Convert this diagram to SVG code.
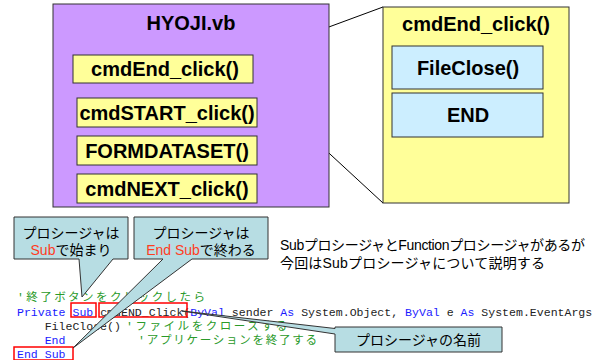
<svg xmlns="http://www.w3.org/2000/svg" width="600" height="360" viewBox="0 0 600 360">
<style>
.bx{stroke:#333;stroke-width:1}
.bt{font-family:"Liberation Sans",Arial,sans-serif;font-weight:bold;font-size:20px;fill:#000;text-anchor:middle}
.jp{font-family:"Liberation Sans","Noto Sans CJK JP",sans-serif;font-size:14px;fill:#000}
.cd{font-family:"Liberation Mono","Noto Sans CJK JP",monospace;font-size:11.55px;fill:#222}
.kw{fill:#1a1aff}
.cm{fill:#2a9a2a}
.red{fill:none;stroke:#ff0000;stroke-width:1.5}
.co{fill:#b7dde3;stroke:#333;stroke-width:1}
.rt{fill:#ff3c1e}
</style>
<rect width="600" height="360" fill="#fff"/>
<g id="connectors" stroke="#000" stroke-width="1">
<line x1="253" y1="55" x2="383" y2="7"/>
<line x1="253" y1="83" x2="383" y2="203"/>
</g>
<g id="hyoji">
<rect class="bx" x="53" y="4" width="276" height="203" fill="#cc99ff"/>
<text class="bt" x="191" y="30">HYOJI.vb</text>
</g>
<g id="cmdEnd">
<rect class="bx" x="73" y="55" width="180" height="28" fill="#ffff99"/>
<text class="bt" x="165" y="76">cmdEnd_click()</text>
</g>
<g id="cmdSTART">
<rect class="bx" x="77" y="98" width="180" height="29" fill="#ffff99"/>
<text class="bt" x="167" y="119.5">cmdSTART_click()</text>
</g>
<g id="formdataset">
<rect class="bx" x="77" y="136" width="180" height="29" fill="#ffff99"/>
<text class="bt" x="167" y="157.5">FORMDATASET()</text>
</g>
<g id="cmdNEXT">
<rect class="bx" x="77" y="174" width="180" height="29" fill="#ffff99"/>
<text class="bt" x="167" y="195.5">cmdNEXT_click()</text>
</g>
<g id="cmdEndDetail">
<rect class="bx" x="383" y="7" width="186" height="196" fill="#ffff99"/>
<text class="bt" x="476" y="31">cmdEnd_click()</text>
</g>
<g id="fileclose">
<rect class="bx" x="392" y="46" width="151" height="43" fill="#cceeff"/>
<text class="bt" x="468" y="74.5">FileClose()</text>
</g>
<g id="end">
<rect class="bx" x="392" y="93" width="151" height="44" fill="#cceeff"/>
<text class="bt" x="468" y="122">END</text>
</g>
<g id="description">
<text class="jp" x="280" y="250" textLength="305" lengthAdjust="spacing">SubプロシージャとFunctionプロシージャがあるが</text>
<text class="jp" x="280" y="268" textLength="265" lengthAdjust="spacing">今回はSubプロシージャについて説明する</text>
</g>
<g id="code">
<text class="cd cm" x="17" y="301" textLength="188" lengthAdjust="spacing">'終了ボタンをクリックしたら</text>
<text class="cd" x="17" y="315.5" xml:space="preserve"><tspan class="kw">Private</tspan> <tspan class="kw">Sub</tspan> cmdEND_Click(<tspan class="kw">ByVal</tspan> sender <tspan class="kw">As</tspan> System.Object, <tspan class="kw">ByVal</tspan> e <tspan class="kw">As</tspan> System.EventArgs</text>
<text class="cd" x="44.7" y="330">FileClose()</text>
<text class="cd cm" x="126" y="330" textLength="161" lengthAdjust="spacing">'ファイルをクローズする</text>
<text class="cd kw" x="44.7" y="344">End</text>
<text class="cd cm" x="138" y="344" textLength="179" lengthAdjust="spacing">'アプリケーションを終了する</text>
<text class="cd kw" x="17" y="358">End Sub</text>
</g>
<g id="highlights">
<rect class="red" x="71" y="303" width="25" height="14"/>
<rect class="red" x="99" y="303" width="88" height="14"/>
<rect class="red" x="14" y="347" width="59" height="13"/>
</g>
<g id="callout-sub">
<path class="co" d="M14,217 H128 V259 H113 L82,297 L79,259 H14 Z"/>
<text class="jp" x="71" y="238" text-anchor="middle">プロシージャは</text>
<text class="jp" x="71" y="255" text-anchor="middle"><tspan class="rt">Sub</tspan>で始まり</text>
</g>
<g id="callout-endsub">
<path class="co" d="M134,217 H268 V259 H192 L73,348 L163,259 H134 Z"/>
<text class="jp" x="201" y="238" text-anchor="middle">プロシージャは</text>
<text class="jp" x="201" y="255" text-anchor="middle"><tspan class="rt">End Sub</tspan>で終わる</text>
</g>
<g id="callout-name">
<path class="co" d="M335,327 H502 V352 H335 V334 L182,311 L335,328.5 Z"/>
<text class="jp" x="418.5" y="345" text-anchor="middle">プロシージャの名前</text>
</g>
</svg>
